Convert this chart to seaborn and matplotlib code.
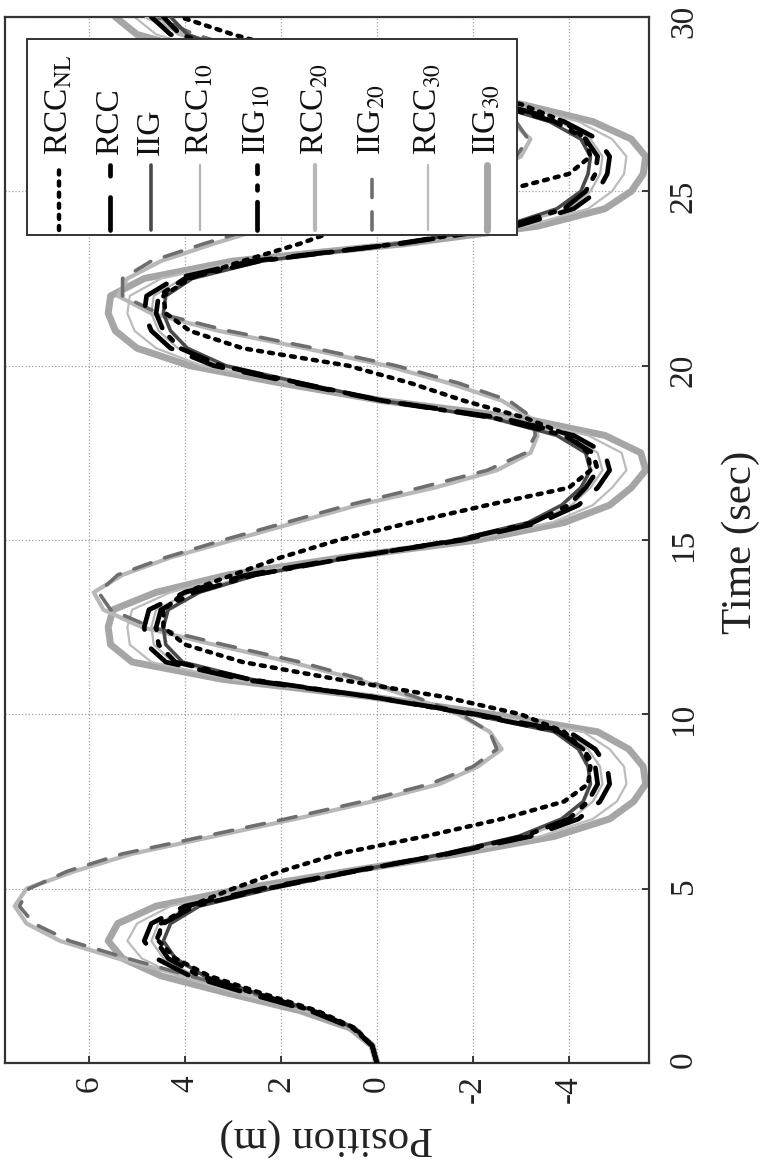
import numpy as np
import pandas as pd
import matplotlib
matplotlib.use("Agg")
import matplotlib.pyplot as plt
from matplotlib.lines import Line2D
from matplotlib.patches import Rectangle
import seaborn as sns

# ---- data: position (m) of each controller over time (s) ----
time_s = np.arange(0.0, 30.5, 0.5)

rcc_nl = [0.0, 0.1, 0.45, 1.25, 2.4, 3.5, 4.2, 4.55, 4.5, 3.9,
          3.0, 2.0, 0.8, -1.0, -2.6, -3.9, -4.4, -4.45, -4.3, -3.9,
          -3.0, -1.4, 0.8, 2.8, 4.0, 4.45, 4.45, 4.0, 3.0, 2.0,
          0.8, -0.7, -2.3, -4.0, -4.45, -4.4, -4.0, -3.1, -1.8, -0.7,
          0.6, 2.8, 3.9, 4.4, 4.45, 3.9, 2.8, 1.6, 0.6, -0.9,
          -2.6, -4.0, -4.45, -4.35, -3.9, -3.0, -1.5, 0.3, 1.7, 3.0,
          4.1]
rcc = [0.0, 0.1, 0.5, 1.4, 2.7, 3.9, 4.6, 4.85, 4.7, 4.0,
       2.4, 0.5, -1.5, -3.2, -4.2, -4.65, -4.85, -4.8, -4.55, -4.0,
       -2.1, 0.1, 2.8, 4.4, 4.8, 4.85, 4.75, 4.0, 2.7, 0.6,
       -1.8, -3.4, -4.2, -4.6, -4.85, -4.75, -4.1, -2.6, -0.1, 1.7,
       3.4, 4.3, 4.7, 4.85, 4.8, 4.2, 2.6, -0.5, -2.9, -4.1,
       -4.6, -4.8, -4.85, -4.6, -3.9, -2.6, -0.5, 1.6, 3.2, 4.3,
       4.7]
iig = [0.0, 0.1, 0.45, 1.3, 2.5, 3.6, 4.2, 4.45, 4.3, 3.7,
       2.2, 0.45, -1.4, -2.95, -3.85, -4.3, -4.45, -4.4, -4.2, -3.7,
       -1.95, 0.1, 2.6, 4.05, 4.4, 4.45, 4.35, 3.7, 2.5, 0.55,
       -1.65, -3.15, -3.85, -4.25, -4.45, -4.35, -3.75, -2.4, -0.1, 1.55,
       3.15, 3.95, 4.3, 4.45, 4.4, 3.85, 2.4, -0.45, -2.65, -3.75,
       -4.25, -4.4, -4.45, -4.25, -3.6, -2.4, -0.45, 1.45, 2.95, 3.95,
       4.3]
rcc_10 = [0.0, 0.1, 0.5, 1.35, 2.6, 3.8, 4.45, 4.7, 4.55, 3.9,
          2.35, 0.5, -1.45, -3.1, -4.05, -4.5, -4.7, -4.65, -4.4, -3.9,
          -2.05, 0.1, 2.7, 4.25, 4.65, 4.7, 4.6, 3.9, 2.6, 0.6,
          -1.75, -3.3, -4.05, -4.45, -4.7, -4.6, -4.0, -2.5, -0.1, 1.65,
          3.3, 4.15, 4.55, 4.7, 4.65, 4.05, 2.5, -0.5, -2.8, -4.0,
          -4.45, -4.65, -4.7, -4.45, -3.8, -2.5, -0.5, 1.55, 3.1, 4.15,
          4.55]
iig_10 = [0.0, 0.1, 0.5, 1.35, 2.55, 3.7, 4.35, 4.6, 4.45, 3.8,
          2.3, 0.45, -1.45, -3.05, -4.0, -4.4, -4.6, -4.55, -4.3, -3.8,
          -2.0, 0.1, 2.65, 4.2, 4.55, 4.6, 4.5, 3.8, 2.55, 0.55,
          -1.7, -3.25, -4.0, -4.35, -4.6, -4.5, -3.9, -2.45, -0.1, 1.6,
          3.25, 4.1, 4.45, 4.6, 4.55, 4.0, 2.45, -0.45, -2.75, -3.9,
          -4.35, -4.55, -4.6, -4.35, -3.7, -2.45, -0.45, 1.5, 3.05, 4.1,
          4.45]
rcc_20 = [0.0, 0.1, 0.5, 1.4, 2.7, 4.0, 5.4, 6.6, 7.3, 7.55,
          7.3, 6.3, 5.1, 3.4, 1.7, 0.1, -1.3, -2.1, -2.6, -2.35,
          -1.7, -0.7, 0.4, 1.8, 3.4, 4.9, 5.7, 5.9, 5.3, 4.3,
          3.0, 1.7, 0.4, -1.2, -2.5, -3.2, -3.35, -3.2, -2.6, -1.5,
          -0.2, 1.5, 3.3, 4.7, 5.4, 5.2, 4.5, 3.4, 2.2, 0.8,
          -0.8, -2.2, -3.0, -3.2, -2.8, -1.8, -0.3, 1.3, 2.8, 4.0,
          4.8]
iig_20 = [0.0, 0.1, 0.5, 1.35, 2.6, 3.9, 5.2, 6.4, 7.15, 7.45,
          7.25, 6.45, 5.3, 3.6, 1.9, 0.3, -1.1, -2.0, -2.5, -2.35,
          -1.75, -0.8, 0.3, 1.6, 3.2, 4.7, 5.55, 5.8, 5.4, 4.4,
          3.2, 1.9, 0.6, -0.9, -2.3, -3.1, -3.3, -3.25, -2.75, -1.7,
          -0.4, 1.3, 3.1, 4.55, 5.3, 5.3, 4.7, 3.6, 2.4, 1.0,
          -0.6, -2.0, -2.9, -3.15, -2.9, -2.0, -0.5, 1.1, 2.6, 3.8,
          4.6]
rcc_30 = [0.0, 0.1, 0.55, 1.5, 2.9, 4.15, 4.9, 5.2, 5.0, 4.3,
          2.55, 0.55, -1.6, -3.4, -4.5, -5.0, -5.2, -5.15, -4.85, -4.3,
          -2.25, 0.1, 3.0, 4.7, 5.15, 5.2, 5.1, 4.3, 2.9, 0.65,
          -1.9, -3.65, -4.5, -4.9, -5.2, -5.1, -4.4, -2.8, -0.1, 1.8,
          3.65, 4.6, 5.05, 5.2, 5.15, 4.5, 2.8, -0.55, -3.1, -4.4,
          -4.9, -5.15, -5.2, -4.9, -4.2, -2.8, -0.55, 1.7, 3.4, 4.6,
          5.05]
iig_30 = [0.0, 0.1, 0.55, 1.6, 3.1, 4.5, 5.3, 5.6, 5.4, 4.6,
          2.8, 0.6, -1.7, -3.7, -4.85, -5.35, -5.6, -5.55, -5.25, -4.6,
          -2.4, 0.1, 3.2, 5.1, 5.55, 5.6, 5.5, 4.6, 3.1, 0.7,
          -2.1, -3.9, -4.85, -5.3, -5.6, -5.5, -4.75, -3.0, -0.1, 2.0,
          3.9, 5.0, 5.45, 5.6, 5.55, 4.85, 3.0, -0.6, -3.35, -4.75,
          -5.3, -5.55, -5.6, -5.3, -4.5, -3.0, -0.6, 1.85, 3.7, 5.0,
          5.45]

legend_labels = [r"RCC$_{\mathrm{NL}}$", "RCC", "IIG", r"RCC$_{\mathrm{10}}$",
                 r"IIG$_{\mathrm{10}}$", r"RCC$_{\mathrm{20}}$", r"IIG$_{\mathrm{20}}$",
                 r"RCC$_{\mathrm{30}}$", r"IIG$_{\mathrm{30}}$"]
series = [rcc_nl, rcc, iig, rcc_10, iig_10, rcc_20, iig_20, rcc_30, iig_30]
time_ticks = [0, 5, 10, 15, 20, 25, 30]
position_ticks = [-4, -2, 0, 2, 4, 6]

# ---- line styles (grayscale print) ----
styles = [
    dict(color="black", lw=3.2, ls=(0, (0.9, 1.6)), z=9),       # RCC_NL dotted
    dict(color="black", lw=3.4, ls=(0, (7, 4.5)), z=8),          # RCC dashed
    dict(color="#4a4a4a", lw=2.6, ls="-", z=6),                  # IIG
    dict(color="#b4b4b4", lw=1.6, ls="-", z=4),                  # RCC_10
    dict(color="black", lw=3.4, ls=(0, (6, 2.5, 1, 2.5)), z=7),  # IIG_10 dash-dot
    dict(color="#b8b8b8", lw=3.0, ls="-", z=3),                  # RCC_20
    dict(color="#6e6e6e", lw=2.6, ls=(0, (5, 4)), z=5),          # IIG_20
    dict(color="#bcbcbc", lw=1.6, ls="-", z=2),                  # RCC_30
    dict(color="#a6a6a6", lw=5.0, ls="-", z=1),                  # IIG_30
]

sns.set_theme(style="white")
plt.rcParams["font.family"] = ["Liberation Serif", "DejaVu Serif"]
plt.rcParams["mathtext.fontset"] = "stix"
plt.rcParams["axes.unicode_minus"] = False

W, H = 760, 1162
fig = plt.figure(figsize=(W / 100, H / 100), dpi=100)
fig.patch.set_facecolor("white")
ax = fig.add_axes([5 / W, 99 / H, 644 / W, 1046 / H])
ax.set_facecolor("white")

# page is turned: position runs horizontally (reversed), time runs upward
for vals, st in zip(series, styles):
    df = pd.DataFrame({"position": vals, "time": time_s})
    sns.lineplot(data=df, x="position", y="time", sort=False, estimator=None,
                 ax=ax, color=st["color"], linewidth=st["lw"], linestyle=st["ls"],
                 zorder=st["z"], legend=False, dash_capstyle="round")

ax.set_xlim(7.75, -5.67)
ax.set_ylim(0, 30)
ax.set_xticks(position_ticks)
ax.set_yticks(time_ticks)
ax.set_xticklabels([str(v) for v in position_ticks])
ax.set_yticklabels([str(v) for v in time_ticks])
ax.set_xlabel("")
ax.set_ylabel("")

ax.yaxis.tick_right()
ax.tick_params(axis="x", bottom=True, top=False, direction="in", length=5,
               labelrotation=90, labelsize=24, pad=9, colors="#222222")
ax.tick_params(axis="y", right=True, left=False, labelright=True, labelleft=False,
               direction="in", length=5, labelrotation=90, labelsize=24, pad=14,
               colors="#222222")

ax.grid(True, color="#a0a0a0", linestyle=":", linewidth=0.9)
for sp in ax.spines.values():
    sp.set_visible(True)
    sp.set_color("#333333")
    sp.set_linewidth(1.6)

fig.text(326 / W, 1 - 1137 / H, "Position (m)", rotation=180, ha="center",
         va="center", fontsize=31, color="#222222")
fig.text(741 / W, 1 - 542 / H, "Time (sec)", rotation=90, ha="center",
         va="center", fontsize=31, color="#222222")

# ---- legend (turned with the page) ----
def ax_fx(px):
    return (px - 5) / 644


def ax_fy(py):
    return (1063 - py) / 1046


box = Rectangle((ax_fx(27), ax_fy(235)), ax_fx(517) - ax_fx(27), ax_fy(39) - ax_fy(235),
                transform=ax.transAxes, facecolor="white", edgecolor="#333333",
                linewidth=1.4, zorder=20)
ax.add_patch(box)
entry_px = [59, 110, 151, 200, 257, 315, 372, 428, 487]
for xc, lab, st in zip(entry_px, legend_labels, styles):
    ln = Line2D([ax_fx(xc), ax_fx(xc)], [ax_fy(230), ax_fy(165)],
                transform=ax.transAxes, color=st["color"], linewidth=st["lw"],
                linestyle=st["ls"], dash_capstyle="round", zorder=21)
    ax.add_line(ln)
    ax.text(ax_fx(xc), ax_fy(155), lab, transform=ax.transAxes, rotation=90,
            rotation_mode="anchor", ha="left", va="center", fontsize=24,
            color="#111111", zorder=22)

fig.savefig("out.png", dpi=100)
